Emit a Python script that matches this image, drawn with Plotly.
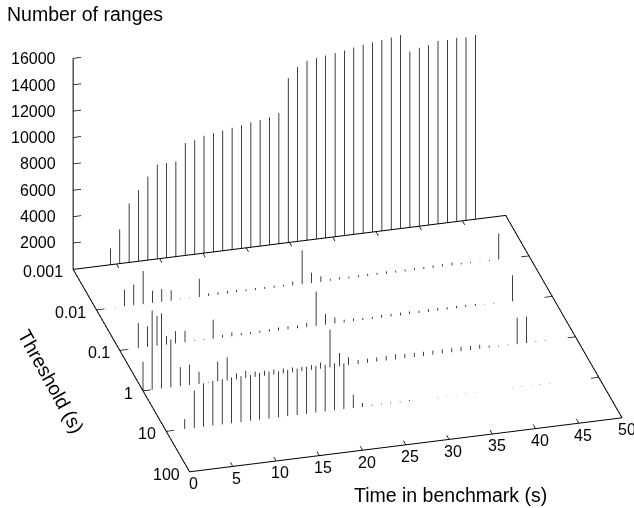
import math
import plotly.graph_objects as go

times = [0.0,1.06,2.14,3.23,4.31,5.39,6.47,7.55,8.64,9.72,10.8,11.88,12.96,14.05,15.13,16.21,17.29,18.37,19.46,20.54,21.62,22.7,23.78,24.87,25.95,27.03,28.11,29.19,30.28,31.36,32.44,33.52,34.6,35.69,36.77,37.85,38.93,40.01,41.1,42.18,43.26,44.34,45.42,46.51]
row_0001 = [None,None,None,None,1240,2600,4480,5390,6340,7160,7180,7210,8520,8640,8900,9010,9130,9240,9350,9470,9560,9670,9920,12470,13230,13610,13720,13830,13930,14030,14170,14290,14380,14470,14560,14670,13330,13530,13640,13860,13850,13930,13870,13960]
row_001 = [None,25,25,1270,1570,2510,935,965,785,40,40,1390,190,190,190,190,150,150,150,150,150,300,2580,785,430,150,175,130,150,175,150,175,150,150,150,150,190,190,230,115,75,25,60,1980]
row_01 = [None,25,1900,1570,2260,660,935,860,55,55,1445,205,305,175,150,175,205,230,230,205,325,2610,815,480,205,205,150,150,205,205,205,205,175,205,205,175,175,175,150,25,55,0,1980,None]
row_1 = [2200,6000,5700,3630,1445,1545,910,40,1520,1750,455,555,405,380,380,380,355,325,355,480,2870,1010,610,305,305,325,355,380,325,305,305,305,325,305,325,305,305,150,55,55,2000,2000,55,55]
row_10 = [None,None,760,2835,3290,3395,3420,3475,3475,3475,3550,3550,3495,3520,3520,3570,3550,3550,3570,3475,1010,300,75,60,60,60,75,0,0,25,25,25,25,25,0,0,0,25,25,25,25,25,0,0]
thresholds = [0.001,0.01,0.1,1,10,100]
thr_labels = ["0.001","0.01","0.1","1","10","100"]
rows = [row_0001,row_001,row_01,row_1,row_10]
time_ticks = [0,5,10,15,20,25,30,35,40,45,50]
z_ticks = [2000,4000,6000,8000,10000,12000,14000,16000]

INK = "#000000"
fig = go.Figure()

def seg(xs, ys, zs, width=1.0, color=INK):
    fig.add_trace(go.Scatter3d(x=xs, y=ys, z=zs, mode="lines", showlegend=False, hoverinfo="skip",
                               line=dict(color=color, width=width)))

for thr, row in zip(thresholds, rows):
    xs, ys, zs = [], [], []
    for t, v in zip(times, row):
        if v is None or v == 0:
            continue
        xs += [t, t, None]; ys += [thr, thr, None]; zs += [0, v, None]
    seg(xs, ys, zs, 1.5)

# frame
seg([0, 50, 50, 0, 0], [100, 100, 0.001, 0.001, 100], [0, 0, 0, 0, 0], 2)
seg([0, 0], [0.001, 0.001], [0, 16000], 2)
for z in z_ticks:
    seg([0, 0.9], [0.001, 0.001], [z, z], 1.5)
for t in time_ticks[1:-1]:
    seg([t, t], [100, 79.4], [0, 0], 1.5)
    seg([t, t], [0.001, 0.00126], [0, 0], 1.5)
for thr in thresholds[1:-1]:
    seg([0, 0.9], [thr, thr], [0, 0], 1.5)
    seg([50, 49.1], [thr, thr], [0, 0], 1.5)

# text placed in page fractions from the same view geometry as the scene
W, H = 634, 508
def page_x(t, thr):
    return 188.5 + 8.66 * t - 23.3 * (2 - math.log10(thr))
def page_y(t, thr, z=0):
    return 472 - 1.08 * t - 40.6 * (2 - math.log10(thr)) - z * 0.01314

TICK = dict(family="Helvetica, Liberation Sans, Arial, sans-serif", size=16, color="#000000")
TITLE = dict(family="Helvetica, Liberation Sans, Arial, sans-serif", size=19.5, color="#000000")
ann = []
def label(x, y, text, font=TICK, xanchor="center", angle=0):
    ann.append(dict(xref="paper", yref="paper", x=x / W, y=1 - y / H, text=text, showarrow=False,
                    xanchor=xanchor, yanchor="middle", font=font, textangle=angle))
for z in z_ticks:
    label(58, page_y(0, 0.001, z), str(z), xanchor="right")
for thr, lab in zip(thresholds, thr_labels):
    label(page_x(0, thr) - 7, page_y(0, thr) + 2.5, lab, xanchor="right")
for t in time_ticks:
    label(page_x(t, 100) + 5, page_y(t, 100) + 11.7, str(t))
label(5, 14, "Number of ranges", TITLE, "left")
label(450, 495, "Time in benchmark (s)", TITLE)
label(51, 381, "Threshold (s)", TITLE, angle=61)

k = 2.0
c = (-0.124, 0.0029, -0.0554)
d = (-0.229, -0.8546, 0.4661)
fig.update_layout(
    width=W, height=H, margin=dict(l=0, r=0, t=0, b=0), paper_bgcolor="white",
    showlegend=False,
    scene=dict(
        domain=dict(x=[0, 1], y=[0, 1]),
        xaxis=dict(visible=False, range=[-0.5, 50.5]),
        yaxis=dict(visible=False, type="log", range=[2.01, -3.01]),
        zaxis=dict(visible=False, range=[-50, 16050]),
        aspectmode="manual", aspectratio=dict(x=1.798, y=1.777, z=0.945),
        camera=dict(projection=dict(type="orthographic"),
                    up=dict(x=0, y=0, z=1),
                    center=dict(x=c[0], y=c[1], z=c[2]),
                    eye=dict(x=c[0] + k * d[0], y=c[1] + k * d[1], z=c[2] + k * d[2])),
    ),
    annotations=ann,
)
fig.write_html("out.html", post_script='document.body.style.margin="0";', config=dict(displayModeBar=False))
